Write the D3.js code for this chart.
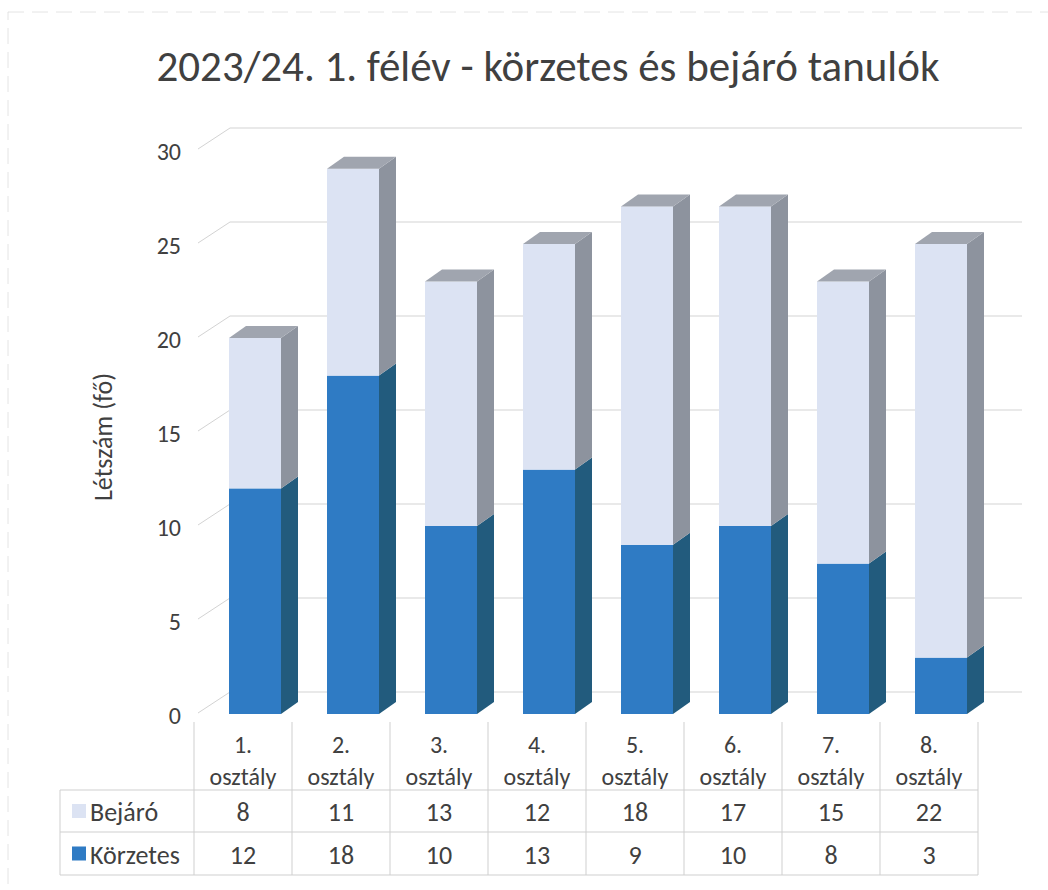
<!DOCTYPE html>
<html>
<head>
<meta charset="utf-8">
<script src="https://cdn.jsdelivr.net/npm/d3@7"></script>
<style>
  body { margin: 0; background: #fff; }
  svg text { font-family: Carlito, Calibri, Lato, "Open Sans", sans-serif; fill: #404040; }
</style>
</head>
<body>
<svg id="chart" width="1048" height="890"></svg>
<script>
const categories = ["1. osztály", "2. osztály", "3. osztály", "4. osztály", "5. osztály", "6. osztály", "7. osztály", "8. osztály"];
const korzetes = [12, 18, 10, 13, 9, 10, 8, 3];
const bejaro = [8, 11, 13, 12, 18, 17, 15, 22];
const yTicks = [0, 5, 10, 15, 20, 25, 30];
const title = "2023/24. 1. félév - körzetes és bejáró tanulók";
const yLabel = "Létszám (fő)";

const svg = d3.select("#chart");
const colors = {
  bejaro: { front: "#dce3f3", side: "#8d939e", top: "#a0a5af" },
  korzetes: { front: "#2f7bc4", side: "#225b7d", top: "#3a6f9a" }
};

// faint page border from the scan
svg.append("rect").attr("x", 8).attr("y", 12).attr("width", 1060).attr("height", 900)
  .attr("fill", "none").attr("stroke", "#e4e4e4").attr("stroke-width", 1).attr("stroke-dasharray", "16,8");

let x = d3.scaleBand().domain(categories).range([194, 978]).padding(0),
  y = d3.scaleLinear().domain([0, 30]).range([714, 150]);
const wall = { dx: 36, dy: -22 };
const depth = { dx: 17, dy: -12 };
const barOffset = 35, barWidth = 52;

// title
svg.append("text")
  .attr("x", 548).attr("y", 81)
  .attr("text-anchor", "middle")
  .attr("font-size", 43)
  .text(title);

// y label
svg.append("text")
  .attr("transform", "translate(112,437) rotate(-90)")
  .attr("text-anchor", "middle")
  .attr("font-size", 26)
  .text(yLabel);

// back wall gridlines + diagonals
let grid = svg.append("g").attr("stroke", "#d3d3d3").attr("stroke-width", 1).attr("fill", "none");
yTicks.forEach(t => {
  grid.append("line")
    .attr("x1", x.range()[0] + wall.dx).attr("x2", 1022)
    .attr("y1", y(t) + wall.dy).attr("y2", y(t) + wall.dy);
  grid.append("line")
    .attr("x1", x.range()[0] + 4).attr("y1", y(t) - 1)
    .attr("x2", x.range()[0] + wall.dx).attr("y2", y(t) + wall.dy);
});

// y axis labels
let yAxis = svg.append("g")
  .attr("transform", "translate(181,2)")
  .call(d3.axisLeft(y).tickValues(yTicks).tickSize(0).tickPadding(0));
yAxis.select(".domain").remove();
yAxis.selectAll("text").attr("font-size", 24).style("font-family", null).attr("fill", "#404040");

// stacked 3d bars
let stacked = categories.map((c, i) => ({ label: c, k: korzetes[i], b: bejaro[i] }));
let bars = svg.append("g");
stacked.forEach(d => {
  let x0 = x(d.label) + barOffset;
  let segs = [
    { v0: 0, v1: d.k, col: colors.korzetes, top: false },
    { v0: d.k, v1: d.k + d.b, col: colors.bejaro, top: true }
  ];
  segs.forEach(s => {
    let yt = y(s.v1), yb = y(s.v0);
    let g = bars.append("g").attr("class", "bar-wrapper");
    g.append("rect")
      .attr("x", x0).attr("y", yt)
      .attr("width", barWidth).attr("height", yb - yt)
      .attr("fill", s.col.front);
    g.append("path")
      .attr("d", `M${x0 + barWidth},${yb} L${x0 + barWidth + depth.dx},${yb + depth.dy} L${x0 + barWidth + depth.dx},${yt + depth.dy} L${x0 + barWidth},${yt} Z`)
      .attr("fill", s.col.side);
    if (s.top) {
      g.append("path")
        .attr("d", `M${x0},${yt} L${x0 + depth.dx},${yt + depth.dy} L${x0 + barWidth + depth.dx},${yt + depth.dy} L${x0 + barWidth},${yt} Z`)
        .attr("fill", s.col.top);
    }
  });
});

// data table
const tableLeft = 60, rowTop = [790, 832, 875];
let table = svg.append("g").attr("stroke", "#cfcfcf").attr("stroke-width", 1);
rowTop.forEach(r => {
  table.append("line").attr("x1", tableLeft).attr("x2", x.range()[1]).attr("y1", r).attr("y2", r);
});
table.append("line").attr("x1", tableLeft).attr("x2", tableLeft).attr("y1", rowTop[0]).attr("y2", rowTop[2]);
x.domain().concat([null]).forEach(c => {
  let xx = c ? x(c) : x.range()[1];
  table.append("line").attr("x1", xx).attr("x2", xx).attr("y1", 722).attr("y2", rowTop[2]);
});

// category labels, two lines each
let catText = svg.append("g").attr("text-anchor", "middle").attr("font-size", 24);
categories.forEach(c => {
  let parts = c.split(" ");
  let cx = x(c) + x.bandwidth() / 2;
  catText.append("text").attr("x", cx).attr("y", 753).text(parts[0]);
  catText.append("text").attr("x", cx).attr("y", 785).text(parts[1]);
});

let rows = [
  { name: "Bejáró", values: bejaro, col: colors.bejaro.front },
  { name: "Körzetes", values: korzetes, col: colors.korzetes.front }
];
rows.forEach((r, ri) => {
  let cy = (rowTop[ri] + rowTop[ri + 1]) / 2;
  svg.append("rect").attr("x", 72).attr("y", cy - 7).attr("width", 14).attr("height", 14).attr("fill", r.col);
  svg.append("text").attr("x", 90).attr("y", cy + 10).attr("font-size", 26).text(r.name);
  r.values.forEach((v, i) => {
    svg.append("text")
      .attr("x", x(categories[i]) + x.bandwidth() / 2).attr("y", cy + 10)
      .attr("text-anchor", "middle").attr("font-size", 26)
      .text(v);
  });
});
</script>
</body>
</html>
